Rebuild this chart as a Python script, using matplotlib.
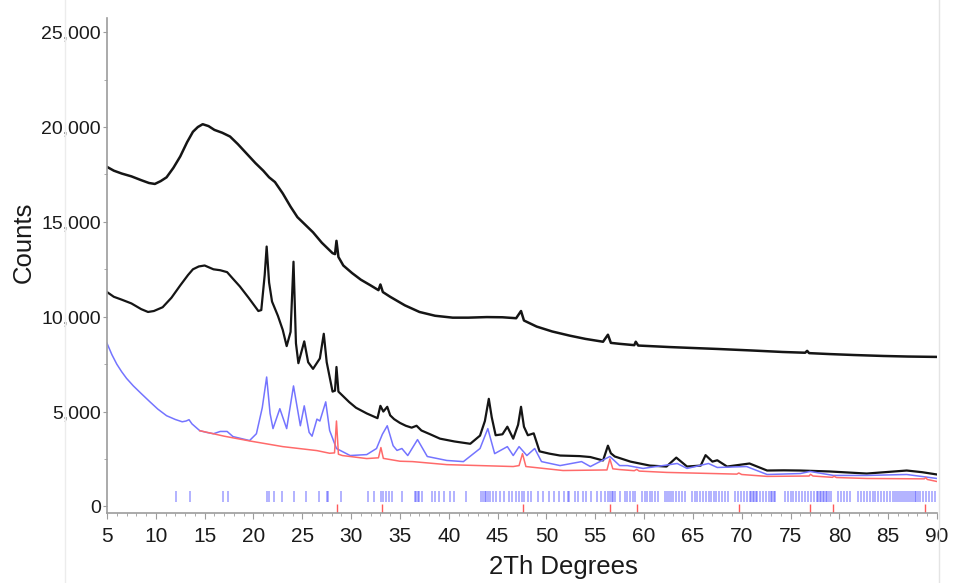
import matplotlib
matplotlib.use("Agg")
import matplotlib.pyplot as plt
from matplotlib.ticker import MultipleLocator
from matplotlib.lines import Line2D

plt.rcParams['font.family'] = ['Liberation Sans', 'DejaVu Sans']

# sample 1 (amorphous, top trace)
tth_top = [5, 5.7, 6.5, 7.5, 8.5, 9.3, 9.9, 10.5, 11.1, 11.8, 12.5, 13.2, 13.8, 14.3,
           14.8, 15.4, 16.0, 16.8, 17.6, 18.4, 19.3, 20.2, 21.0, 21.6, 22.2, 23.0,
           23.8, 24.5, 25.3, 26.1, 27.0, 28.1, 28.35, 28.5, 28.7, 29.2, 30.1, 31.0,
           32.0, 32.8, 33.0, 33.25, 34.0, 35.5, 37.0, 38.6, 40.4, 42.0, 43.9, 45.5,
           46.9, 47.4, 47.7, 49.0, 50.6, 52.4, 54.0, 55.8, 56.3, 56.6, 57.5, 59.0,
           59.15, 59.4, 61.0, 62.6, 65.0, 67.5, 71.0, 74.2, 76.5, 76.7, 76.9, 79.0,
           81.5, 84.5, 87.0, 90]
counts_top = [17900, 17700, 17550, 17400, 17200, 17050, 17000, 17150, 17350, 17850, 18450, 19200, 19750, 20000,
              20150, 20050, 19850, 19700, 19500, 19100, 18600, 18100, 17700, 17350, 17100, 16500,
              15800, 15250, 14850, 14450, 13900, 13350, 13300, 14000, 13150, 12700, 12300, 11950,
              11650, 11400, 11700, 11300, 11050, 10600, 10250, 10050, 9950, 9950, 9980, 9970,
              9920, 10300, 9800, 9480, 9220, 9000, 8830, 8680, 9050, 8620, 8570, 8500,
              8680, 8480, 8440, 8400, 8350, 8300, 8220, 8140, 8100, 8200, 8080, 8030,
              7980, 7930, 7900, 7880]

# sample 2 (observed, middle trace)
tth_obs = [5, 5.7, 6.5, 7.5, 8.5, 9.2, 9.8, 10.7, 11.6, 12.5, 13.3, 13.8, 14.4, 15.0,
           15.9, 16.6, 17.3, 17.9, 18.6, 19.5, 20.5, 20.8, 21.15, 21.35, 21.6, 21.9,
           22.5, 23.0, 23.4, 23.8, 24.1, 24.35, 24.6, 25.2, 25.6, 26.1, 26.8, 27.2,
           27.5, 28.1, 28.35, 28.5, 28.7, 29.1, 29.8, 30.5, 31.6, 32.7, 33.0, 33.3,
           33.7, 34.0, 34.4, 35.0, 35.6, 36.2, 36.7, 37.2, 38.1, 39.1, 40.6, 42.2,
           43.2, 43.7, 44.1, 44.4, 44.8, 45.5, 46.0, 46.6, 47.1, 47.4, 47.7, 48.1,
           48.7, 49.3, 50.3, 51.4, 53.4, 54.5, 55.8, 56.3, 56.6, 57.0, 58.6, 60.6,
           62.3, 63.3, 64.4, 65.8, 66.3, 67.0, 67.5, 68.5, 70.8, 72.6, 74.3, 76.0,
           79.0, 82.8, 86.9, 88.5, 90]
counts_obs = [11300, 11050, 10900, 10700, 10400, 10250, 10300, 10500, 11000, 11650, 12200, 12500, 12650, 12700,
              12500, 12450, 12350, 12000, 11600, 11000, 10300, 10350, 12200, 13700, 11800, 10800,
              10050, 9300, 8450, 9200, 12900, 8600, 7550, 8700, 7600, 7250, 7800, 9100,
              7600, 6050, 6100, 7350, 6050, 5850, 5500, 5200, 4900, 4650, 5300, 5000,
              5250, 4800, 4600, 4400, 4250, 4150, 4250, 4000, 3800, 3570, 3420, 3300,
              3730, 4500, 5670, 4700, 3750, 3800, 4200, 3570, 4300, 5250, 4200, 3750,
              3850, 2900, 2780, 2680, 2650, 2600, 2420, 3200, 2800, 2630, 2360, 2150,
              2100, 2570, 2100, 2150, 2700, 2360, 2430, 2100, 2260, 1890, 1900, 1890,
              1840, 1730, 1890, 1800, 1680]

# calculated pattern (blue)
tth_calc = [5, 5.5, 6.0, 6.5, 7.0, 7.7, 8.5, 9.4, 10.2, 11.1, 12.0, 12.7, 13.1, 13.4,
            13.7, 14.5, 15.2, 15.9, 16.6, 17.3, 17.9, 19.6, 20.3, 20.9, 21.35, 21.7,
            22.0, 22.7, 23.4, 24.1, 24.8, 25.2, 25.7, 26.0, 26.5, 26.8, 27.4, 27.8,
            28.5, 29.9, 31.6, 32.6, 33.2, 33.7, 34.3, 34.7, 35.2, 35.8, 36.8, 37.8,
            39.8, 41.5, 43.2, 44.0, 44.7, 46.0, 46.6, 47.2, 48.0, 48.8, 49.5, 51.4,
            53.6, 54.5, 56.5, 57.5, 58.3, 59.9, 63.4, 64.4, 66.6, 67.5, 70.5, 72.6,
            76.0, 77.0, 79.4, 82.8, 86.9, 90]
counts_calc = [8600, 8000, 7500, 7100, 6750, 6350, 5950, 5510, 5130, 4780, 4580, 4460, 4500, 4570,
               4350, 3990, 3900, 3830, 3950, 3950, 3680, 3470, 3830, 5200, 6820, 4900,
               4100, 5150, 4100, 6350, 4250, 5300, 3900, 3700, 4600, 4500, 5510, 4000,
               3050, 2680, 2730, 3050, 3800, 4250, 3200, 2950, 3050, 2680, 3520, 2630,
               2420, 2360, 3050, 4100, 2780, 3150, 2680, 3150, 2680, 3050, 2360, 2150,
               2360, 2100, 2630, 2150, 2150, 2000, 2260, 2000, 2260, 2050, 2100, 1680,
               1730, 1840, 1630, 1630, 1680, 1470]

# second phase + background (red)
tth_ph2 = [14.5, 17.0, 19.6, 23.0, 26.5, 27.8, 28.3, 28.5, 28.7, 29.1, 31.6, 32.8, 33.05,
           33.3, 35.0, 36.3, 39.8, 43.2, 46.6, 47.2, 47.55, 47.9, 51.7, 56.2, 56.5,
           56.8, 57.5, 59.0, 59.25, 59.5, 62.3, 69.5, 69.7, 70.0, 72.6, 76.9, 77.05,
           77.3, 79.3, 79.45, 79.7, 82.8, 88.7, 88.85, 89.0, 90]
counts_ph2 = [3990, 3700, 3450, 3150, 2940, 2800, 2820, 4500, 2750, 2680, 2520, 2560, 3100,
              2530, 2380, 2360, 2200, 2150, 2100, 2150, 2780, 2100, 1890, 1920, 2500,
              1980, 1940, 1880, 1950, 1860, 1790, 1700, 1760, 1680, 1580, 1600, 1690,
              1600, 1530, 1590, 1520, 1470, 1450, 1520, 1420, 1310]

# reflection positions
hkl_blue = [12.05, 13.55, 16.85, 17.4, 21.4, 21.55, 22.1, 22.9, 24.2, 25.4, 26.7, 27.5, 27.65,
            29.0, 31.7, 32.3, 33.1, 33.3, 33.6, 33.9, 34.2, 35.2, 36.5, 36.6, 36.8, 37.0,
            37.3, 38.3, 38.6, 39.0, 39.5, 40.1, 40.5, 41.8, 43.3, 43.5, 43.7, 43.85, 44.0,
            44.2, 44.5, 44.8, 45.2, 45.7, 46.2, 46.5, 46.9, 47.2, 47.5, 47.7, 48.1, 48.4,
            49.1, 49.6, 50.3, 50.8, 51.3, 51.8, 52.2, 52.35, 52.9, 53.2, 53.7, 54.1, 54.6,
            55.2, 55.6, 56.0, 56.3, 56.5, 56.7, 56.85, 57.0, 57.5, 58.0, 58.3, 58.6, 58.9,
            59.1, 59.8, 60.1, 60.3, 60.6, 60.8, 61.1, 61.4, 62.1, 62.35, 62.6, 62.8, 63.0,
            63.3, 63.6, 63.9, 64.2, 64.9, 65.2, 65.4, 65.7, 66.0, 66.3, 66.6, 66.9, 67.2,
            67.4, 67.7, 68.0, 68.3, 68.6, 69.3, 69.6, 69.9, 70.2, 70.5, 70.8, 71.0, 71.15,
            71.3, 71.45, 71.6, 71.9, 72.2, 72.5, 72.8, 73.0, 73.15, 73.3, 73.45, 74.4, 74.7,
            75.0, 75.3, 75.6, 75.9, 76.2, 76.5, 76.8, 77.1, 77.4, 77.7, 77.85, 78.0, 78.15,
            78.3, 78.45, 78.6, 78.75, 78.9, 79.1, 79.9, 80.2, 80.5, 80.8, 81.1, 81.9, 82.2,
            82.5, 82.8, 83.1, 83.4, 83.7, 84.0, 84.3, 84.6, 84.9, 85.2, 85.5, 85.7, 85.9,
            86.1, 86.3, 86.5, 86.7, 86.9, 87.1, 87.3, 87.5, 87.7, 87.9, 88.1, 88.3, 88.6,
            88.9, 89.2, 89.5, 89.8]
hkl_red = [28.6, 33.15, 47.6, 56.5, 59.3, 69.7, 77.0, 79.4, 88.8]

y_ticks = [0, 5000, 10000, 15000, 20000, 25000]
y_labels = ['0', '5,000', '10,000', '15,000', '20,000', '25,000']
x_ticks = list(range(5, 91, 5))

fig = plt.figure(figsize=(9.58, 5.83), dpi=100)
ax = fig.add_axes([107 / 958, 1 - 513 / 583, 830 / 958, 495 / 583])

ax.plot(tth_top, counts_top, color='#151515', lw=1.8)
ax.plot(tth_obs, counts_obs, color='#151515', lw=1.6)
ax.plot(tth_calc, counts_calc, color='#7474ff', lw=1.1)
ax.plot(tth_ph2, counts_ph2, color='#ff6a6a', lw=1.1)

ymin, ymax = -350, 25750
ax.vlines(hkl_blue, 250, 800, color='#3030ff', alpha=0.4, lw=1.3)
ax.vlines(hkl_red, ymin, 150, color='#ff5a5a', lw=1.0)

ax.set_xlim(5, 90)
ax.set_ylim(ymin, ymax)
ax.set_xticks(x_ticks)
ax.set_yticks(y_ticks)
ax.set_yticklabels(y_labels)
ax.xaxis.set_minor_locator(MultipleLocator(1))
ax.yaxis.set_minor_locator(MultipleLocator(2500))

for s in ['top', 'right']:
    ax.spines[s].set_visible(False)
for s in ['left', 'bottom']:
    ax.spines[s].set_color('#9c9c9c')
    ax.spines[s].set_linewidth(1.2)

ax.tick_params(axis='both', which='both', direction='out', color='#9c9c9c')
ax.tick_params(axis='x', which='major', length=4, pad=6, labelsize=15, labelcolor='#1a1a1a')
ax.tick_params(axis='y', which='major', length=3, pad=1.5, labelsize=14, labelcolor='#1a1a1a')
ax.tick_params(which='minor', length=2.5)

fig.text(563 / 958, 1 - 567 / 583, '2Th Degrees', ha='center', va='center',
         fontsize=18.5, color='#1a1a1a')
fig.text(24 / 958, 1 - 242 / 583, 'Counts', ha='center', va='center', rotation=90,
         fontsize=18.5, color='#1a1a1a')

# faint frame lines of the original export
fig.add_artist(Line2D([65 / 958, 65 / 958], [0, 1], color='#ececec', lw=1))
fig.add_artist(Line2D([939 / 958, 939 / 958], [0, 1], color='#e4e4e4', lw=1))

fig.savefig('out.png', dpi=100)
